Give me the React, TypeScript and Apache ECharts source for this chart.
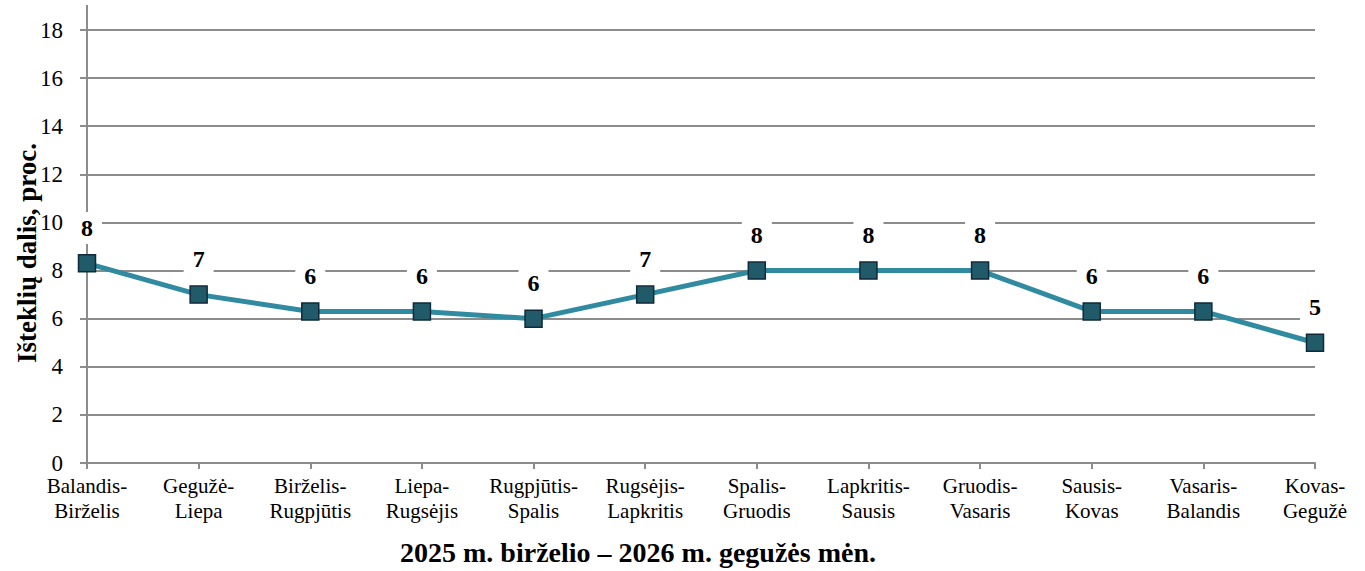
import React, { useEffect, useRef } from "react";
import * as echarts from "echarts";

const categories = [
  "Balandis-\nBirželis",
  "Gegužė-\nLiepa",
  "Birželis-\nRugpjūtis",
  "Liepa-\nRugsėjis",
  "Rugpjūtis-\nSpalis",
  "Rugsėjis-\nLapkritis",
  "Spalis-\nGruodis",
  "Lapkritis-\nSausis",
  "Gruodis-\nVasaris",
  "Sausis-\nKovas",
  "Vasaris-\nBalandis",
  "Kovas-\nGegužė",
];
const values = [8.3, 7, 6.3, 6.3, 6, 7, 8, 8, 8, 6.3, 6.3, 5];
const yAxisTitle = "Išteklių dalis, proc.";
const xAxisTitle = "2025 m. birželio – 2026 m. gegužės mėn.";

const FONT = "Liberation Serif, serif";

export default function App() {
  const ref = useRef<HTMLDivElement>(null);
  useEffect(() => {
    if (!ref.current) return;
    const chart = echarts.init(ref.current, null, { renderer: "svg" });
    chart.setOption({
      animation: false,
      backgroundColor: "#ffffff",
      textStyle: { fontFamily: FONT },
      grid: {
        left: 87,
        right: 50,
        top: 30,
        bottom: 108,
        containLabel: false,
        outerBoundsMode: "none",
      },
      xAxis: {
        type: "category",
        data: categories,
        boundaryGap: false,
        axisLine: { lineStyle: { color: "#8c8c8c", width: 2 } },
        axisTick: { show: true, length: 6, lineStyle: { color: "#8c8c8c", width: 2 } },
        axisLabel: {
          color: "#000",
          fontFamily: FONT,
          fontSize: 21,
          lineHeight: 25,
          margin: 10,
          interval: 0,
        },
      },
      yAxis: {
        type: "value",
        min: 0,
        max: 18,
        interval: 2,
        axisLine: { show: true, lineStyle: { color: "#8c8c8c", width: 2 } },
        axisTick: { show: true, length: 7, lineStyle: { color: "#8c8c8c", width: 2 } },
        axisLabel: { color: "#000", fontFamily: FONT, fontSize: 23, margin: 24 },
        splitLine: { lineStyle: { color: "#8c8c8c", width: 2 } },
      },
      graphic: [
        {
          type: "line",
          shape: { x1: 87, y1: 5, x2: 87, y2: 31 },
          style: { stroke: "#8c8c8c", lineWidth: 2 },
        },
        {
          type: "text",
          x: 27,
          y: 253,
          rotation: Math.PI / 2,
          style: {
            text: yAxisTitle,
            fill: "#000",
            font: `bold 27px ${FONT}`,
            align: "center",
            verticalAlign: "middle",
          },
        },
        {
          type: "text",
          x: 638,
          y: 552,
          style: {
            text: xAxisTitle,
            fill: "#000",
            font: `bold 28px ${FONT}`,
            align: "center",
            verticalAlign: "middle",
          },
        },
      ],
      series: [
        {
          type: "line",
          data: values,
          symbol: "rect",
          symbolSize: 17,
          lineStyle: { color: "#318ba0", width: 5 },
          itemStyle: { color: "#215b6a", borderColor: "#0f2a3a", borderWidth: 1.5 },
          label: {
            show: true,
            position: "top",
            distance: 10,
            formatter: (p: any) => String(Math.round(p.value)),
            color: "#000",
            fontFamily: FONT,
            fontSize: 24,
            fontWeight: "bold",
            backgroundColor: "#ffffff",
            padding: [4, 9, 4, 9],
          },
        },
      ],
    });
    return () => chart.dispose();
  }, []);
  return (
    <div
      ref={ref}
      style={{ position: "fixed", left: 0, top: 0, width: 1365, height: 571 }}
    />
  );
}
